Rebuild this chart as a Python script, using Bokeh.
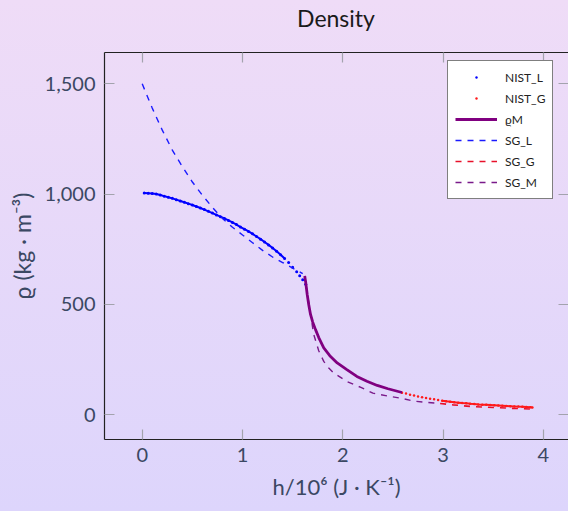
from bokeh.plotting import figure
from bokeh.layouts import column
from bokeh.models import (Range1d, LinearAxis, FixedTicker, NumeralTickFormatter,
                          Legend, LegendItem, CustomLabelingPolicy, Div)
from bokeh.embed import file_html
from bokeh.resources import INLINE

# ---------------- data ----------------
nist_l_h = [0.02, 0.06, 0.10, 0.14, 0.18, 0.22, 0.26, 0.30, 0.34, 0.38, 0.42, 0.46,
            0.50, 0.54, 0.58, 0.62, 0.66, 0.70, 0.74, 0.78, 0.82, 0.86, 0.90, 0.94,
            0.98, 1.02, 1.06, 1.10, 1.14, 1.18, 1.22, 1.26, 1.30, 1.34, 1.38, 1.42,
            1.46, 1.50, 1.54, 1.57, 1.60, 1.63]
nist_l_rho = [1005, 1004, 1003, 1001, 996, 991, 986, 981, 975, 969, 963, 957,
              951, 944, 937, 930, 922, 914, 906, 898, 890, 881, 872, 862,
              851, 841, 831, 820, 808, 796, 783, 770, 756, 741, 725, 708,
              690, 669, 648, 630, 612, 592]

nist_g_h = [2.59, 2.63, 2.67, 2.71, 2.75, 2.79, 2.83, 2.87, 2.91, 2.95, 2.99, 3.03,
            3.07, 3.11, 3.15, 3.19, 3.23, 3.27, 3.31, 3.35, 3.39, 3.43, 3.47, 3.51,
            3.55, 3.59, 3.63, 3.67, 3.71, 3.75, 3.79, 3.83, 3.87, 3.89]
nist_g_rho = [100, 96, 91, 87, 83, 80, 76, 73, 70, 67, 64, 61,
              59, 57, 55, 53, 52, 50, 49, 47, 46, 45, 44, 43,
              42, 41, 40, 39, 38, 37, 36, 35, 34, 33]

rho_m_h = [1.62, 1.63, 1.645, 1.66, 1.678, 1.70, 1.728, 1.76, 1.81, 1.87, 1.944,
           2.04, 2.14, 2.24, 2.343, 2.45, 2.59]
rho_m_rho = [629, 600, 545, 500, 455, 420, 386, 350, 303, 268, 235,
             205, 174, 152, 133, 118, 101]

sg_l_h = [0.0, 0.1, 0.2, 0.3, 0.4, 0.5, 0.6, 0.7, 0.8, 0.9, 1.0, 1.1, 1.2, 1.3,
          1.4, 1.5, 1.6]
sg_l_rho = [1500, 1390, 1290, 1200, 1125, 1055, 995, 940, 890, 850, 815, 780,
            745, 715, 690, 665, 640]

sg_g_h = [2.97, 3.1, 3.27, 3.5, 3.7, 3.89]
sg_g_rho = [51, 45, 38, 33, 29, 26]

sg_m_h = [1.62, 1.65, 1.68, 1.71, 1.76, 1.81, 1.86, 1.91, 2.04, 2.18, 2.30, 2.45,
          2.58, 2.71, 2.84, 2.97]
sg_m_rho = [630, 540, 450, 364, 290, 242, 212, 189, 151, 124, 98, 85,
            75, 62, 56, 51]

x_ticks = [0, 1, 2, 3, 4]
y_ticks = [0, 500, 1000, 1500]
title_text = "Density"

# ---------------- styling ----------------
FONT = "Lato"
TXT = "#3b4863"
TICK = "#a3a3ad"

title_div = Div(text=title_text, width=568, height=40, margin=0,
                styles={"padding-left": "104px", "padding-top": "5px",
                        "box-sizing": "border-box", "text-align": "center",
                        "font-family": FONT, "font-size": "23px",
                        "color": "#1a1a1a", "line-height": "26px"})

p = figure(width=568, height=471, x_range=Range1d(-0.376, 4.25),
           y_range=Range1d(-112, 1642), output_backend="svg",
           toolbar_location=None, margin=0,
           min_border_left=104, min_border_right=0, min_border_top=12,
           min_border_bottom=72)

p.border_fill_color = None
p.background_fill_color = None
p.outline_line_color = None
p.grid.visible = False

def style_axis(ax):
    ax.major_tick_in = 10
    ax.major_tick_out = 0
    ax.minor_tick_in = 0
    ax.minor_tick_out = 0
    ax.major_tick_line_color = TICK
    ax.major_tick_line_width = 1.2
    ax.axis_line_color = "#222222"
    ax.axis_line_width = 1.2
    ax.major_label_text_font = FONT
    ax.major_label_text_font_size = "20px"
    ax.major_label_text_color = TXT
    ax.axis_label_text_font = FONT
    ax.axis_label_text_font_size = "22px"
    ax.axis_label_text_font_style = "normal"
    ax.axis_label_text_color = TXT

xa = p.xaxis[0]
xa.ticker = FixedTicker(ticks=x_ticks)
xa.axis_label = "h/10⁶ (J · K⁻¹)"
style_axis(xa)
xa.major_label_standoff = 8
xa.axis_label_standoff = 8

ya = p.yaxis[0]
ya.ticker = FixedTicker(ticks=y_ticks)
ya.formatter = NumeralTickFormatter(format="0,0")
ya.axis_label = "ϱ (kg · m⁻³)"
style_axis(ya)
ya.axis_label_text_font_size = "23px"
ya.major_label_standoff = 9
ya.axis_label_standoff = 6

top = LinearAxis(ticker=FixedTicker(ticks=x_ticks))
style_axis(top)
top.major_label_policy = CustomLabelingPolicy(code="return []")
top.major_label_text_font_size = "0px"
top.major_label_standoff = 0
p.add_layout(top, "above")

right = LinearAxis(ticker=FixedTicker(ticks=y_ticks))
style_axis(right)
right.major_label_policy = CustomLabelingPolicy(code="return []")
right.major_label_text_font_size = "0px"
right.major_label_standoff = 0
right.axis_line_color = None
p.add_layout(right, "right")

# ---------------- glyphs ----------------
p.line(nist_l_h[:36], nist_l_rho[:36], color="#0000ff", line_width=2)
p.line(nist_g_h[10:], nist_g_rho[10:], color="#ff1a1a", line_width=2)
r_nl = p.scatter(nist_l_h, nist_l_rho, size=3, color="#0000ff", line_width=0)
r_ng = p.scatter(nist_g_h, nist_g_rho, size=2.5, color="#ff1a1a", line_width=0)
r_sgl = p.line(sg_l_h, sg_l_rho, color="#1a1aff", line_width=1.4, line_dash="6 6")
r_sgg = p.line(sg_g_h, sg_g_rho, color="#e8102a", line_width=1.6, line_dash="6 6")
r_sgm = p.line(sg_m_h, sg_m_rho, color="#7a1a8a", line_width=1.4, line_dash="6 6")
r_m = p.line(rho_m_h, rho_m_rho, color="#800080", line_width=2.8)

legend = Legend(items=[
    LegendItem(label="NIST_L", renderers=[r_nl]),
    LegendItem(label="NIST_G", renderers=[r_ng]),
    LegendItem(label="ϱM", renderers=[r_m]),
    LegendItem(label="SG_L", renderers=[r_sgl]),
    LegendItem(label="SG_G", renderers=[r_sgg]),
    LegendItem(label="SG_M", renderers=[r_sgm]),
], location=(343, 240))
legend.background_fill_color = "white"
legend.background_fill_alpha = 1.0
legend.border_line_color = "black"
legend.border_line_width = 1
legend.label_text_font = FONT
legend.label_text_font_size = "12px"
legend.label_text_color = "#222222"
legend.glyph_width = 42
legend.glyph_height = 6
legend.label_height = 18
legend.label_standoff = 8
legend.spacing = 3
legend.padding = 7
legend.margin = 0
p.add_layout(legend)

page = column(title_div, p, spacing=0, width=568, height=511,
              styles={"background": "linear-gradient(180deg, #efdcf7 0%, #ddd5fc 100%)"})

open("out.html", "w").write(file_html(page, INLINE))
